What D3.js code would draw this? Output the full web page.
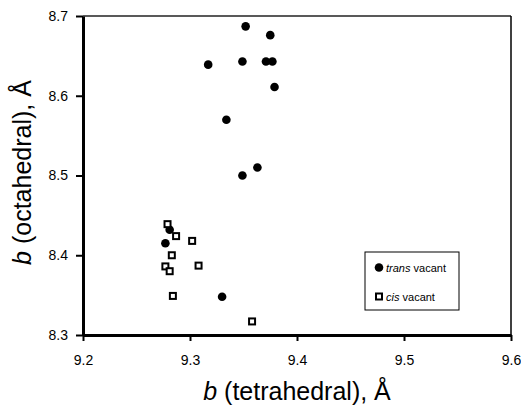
<!DOCTYPE html>
<html>
<head>
<meta charset="utf-8">
<script src="https://cdn.jsdelivr.net/npm/d3@7"></script>
<style>
  body { margin: 0; background: #fff; }
  svg { font-family: "Liberation Sans", Arial, sans-serif; }
  .axis path, .axis line { stroke: #000; }
  .axis text { font-size: 14px; fill: #000; }
</style>
</head>
<body>
<div id="chart"></div>
<script>
// trans vacant (filled circles)
var transX = [9.352, 9.317, 9.349, 9.334, 9.349, 9.363, 9.375, 9.371, 9.377, 9.379, 9.281, 9.277, 9.330]
var transY = [8.687, 8.639, 8.643, 8.570, 8.500, 8.510, 8.676, 8.643, 8.643, 8.611, 8.432, 8.415, 8.348]
// cis vacant (open squares)
var cisX = [9.279, 9.287, 9.302, 9.283, 9.277, 9.281, 9.308, 9.284, 9.358]
var cisY = [8.439, 8.424, 8.418, 8.400, 8.386, 8.380, 8.387, 8.349, 8.317]
var xTicks = [9.2, 9.3, 9.4, 9.5, 9.6]
var yTicks = [8.3, 8.4, 8.5, 8.6, 8.7]

var fullWidth = 521, fullHeight = 409
var margin = { top: 16, right: 10, bottom: 74, left: 83 }
var width = fullWidth - margin.left - margin.right
var height = fullHeight - margin.top - margin.bottom

var xScale = d3.scaleLinear().domain([9.2, 9.6]).range([0, width])
var yScale = d3.scaleLinear().domain([8.3, 8.7]).range([height, 0])

var svg = d3.select("#chart").append("svg")
    .attr("width", fullWidth)
    .attr("height", fullHeight)
    .append("g")
    .attr("transform", "translate(" + margin.left + "," + margin.top + ")")

// top and right frame
svg.append("line")
    .attr("x1", 0).attr("x2", width).attr("y1", 0).attr("y2", 0)
    .style("stroke", "#222").style("stroke-width", 1.5)
svg.append("line")
    .attr("x1", width).attr("x2", width).attr("y1", 0).attr("y2", height)
    .style("stroke", "#000").style("stroke-width", 1.5)

var xAxis = d3.axisBottom(xScale)
    .tickValues(xTicks)
    .tickFormat(d3.format(".1f"))
    .tickSizeInner(6)
    .tickSizeOuter(0)
    .tickPadding(14)

var yAxis = d3.axisLeft(yScale)
    .tickValues(yTicks)
    .tickFormat(d3.format(".1f"))
    .tickSizeInner(7)
    .tickSizeOuter(0)
    .tickPadding(8)

var gx = svg.append("g")
    .attr("class", "axis")
    .attr("transform", "translate(0," + height + ")")
    .call(xAxis)
gx.select(".domain").style("stroke-width", 3)
gx.selectAll(".tick line").style("stroke-width", 2)

var gy = svg.append("g")
    .attr("class", "axis")
    .call(yAxis)
gy.select(".domain").style("stroke-width", 3)
gy.selectAll(".tick line").style("stroke-width", 2)

// points
svg.selectAll("circle.trans")
    .data(d3.range(transX.length))
    .enter()
    .append("circle")
    .attr("class", "trans")
    .attr("cx", function (i) { return xScale(transX[i]) })
    .attr("cy", function (i) { return yScale(transY[i]) })
    .attr("r", 4.3)
    .style("fill", "#000")

svg.selectAll("rect.cis")
    .data(d3.range(cisX.length))
    .enter()
    .append("rect")
    .attr("class", "cis")
    .attr("x", function (i) { return xScale(cisX[i]) - 3 })
    .attr("y", function (i) { return yScale(cisY[i]) - 3 })
    .attr("width", 6)
    .attr("height", 6)
    .style("fill", "#fff")
    .style("stroke", "#000")
    .style("stroke-width", 2)

// axis titles
var xTitle = svg.append("text")
    .attr("x", width / 2)
    .attr("y", height + 65)
    .style("text-anchor", "middle")
    .style("font-size", "25px")
xTitle.append("tspan").style("font-style", "italic").text("b")
xTitle.append("tspan").text(" (tetrahedral), Å")

var yTitle = svg.append("text")
    .attr("transform", "translate(" + (31 - margin.left) + "," + (height / 2 - 3) + ") rotate(-90)")
    .style("text-anchor", "middle")
    .style("font-size", "25px")
yTitle.append("tspan").style("font-style", "italic").text("b")
yTitle.append("tspan").text(" (octahedral), Å")

// legend
var legend = svg.append("g")
    .attr("transform", "translate(" + (365 - margin.left) + "," + (252 - margin.top) + ")")
legend.append("rect")
    .attr("width", 94)
    .attr("height", 58)
    .style("fill", "#fff")
    .style("stroke", "#000")
    .style("stroke-width", 1)
legend.append("circle")
    .attr("cx", 14).attr("cy", 15.5).attr("r", 4.3)
    .style("fill", "#000")
legend.append("rect")
    .attr("x", 11).attr("y", 41.5).attr("width", 6).attr("height", 6)
    .style("fill", "#fff").style("stroke", "#000").style("stroke-width", 2)
var t1 = legend.append("text").attr("x", 21).attr("y", 19.5).style("font-size", "11px")
t1.append("tspan").style("font-style", "italic").text("trans")
t1.append("tspan").text(" vacant")
var t2 = legend.append("text").attr("x", 21).attr("y", 48.5).style("font-size", "11px")
t2.append("tspan").style("font-style", "italic").text("cis")
t2.append("tspan").text(" vacant")
</script>
</body>
</html>
